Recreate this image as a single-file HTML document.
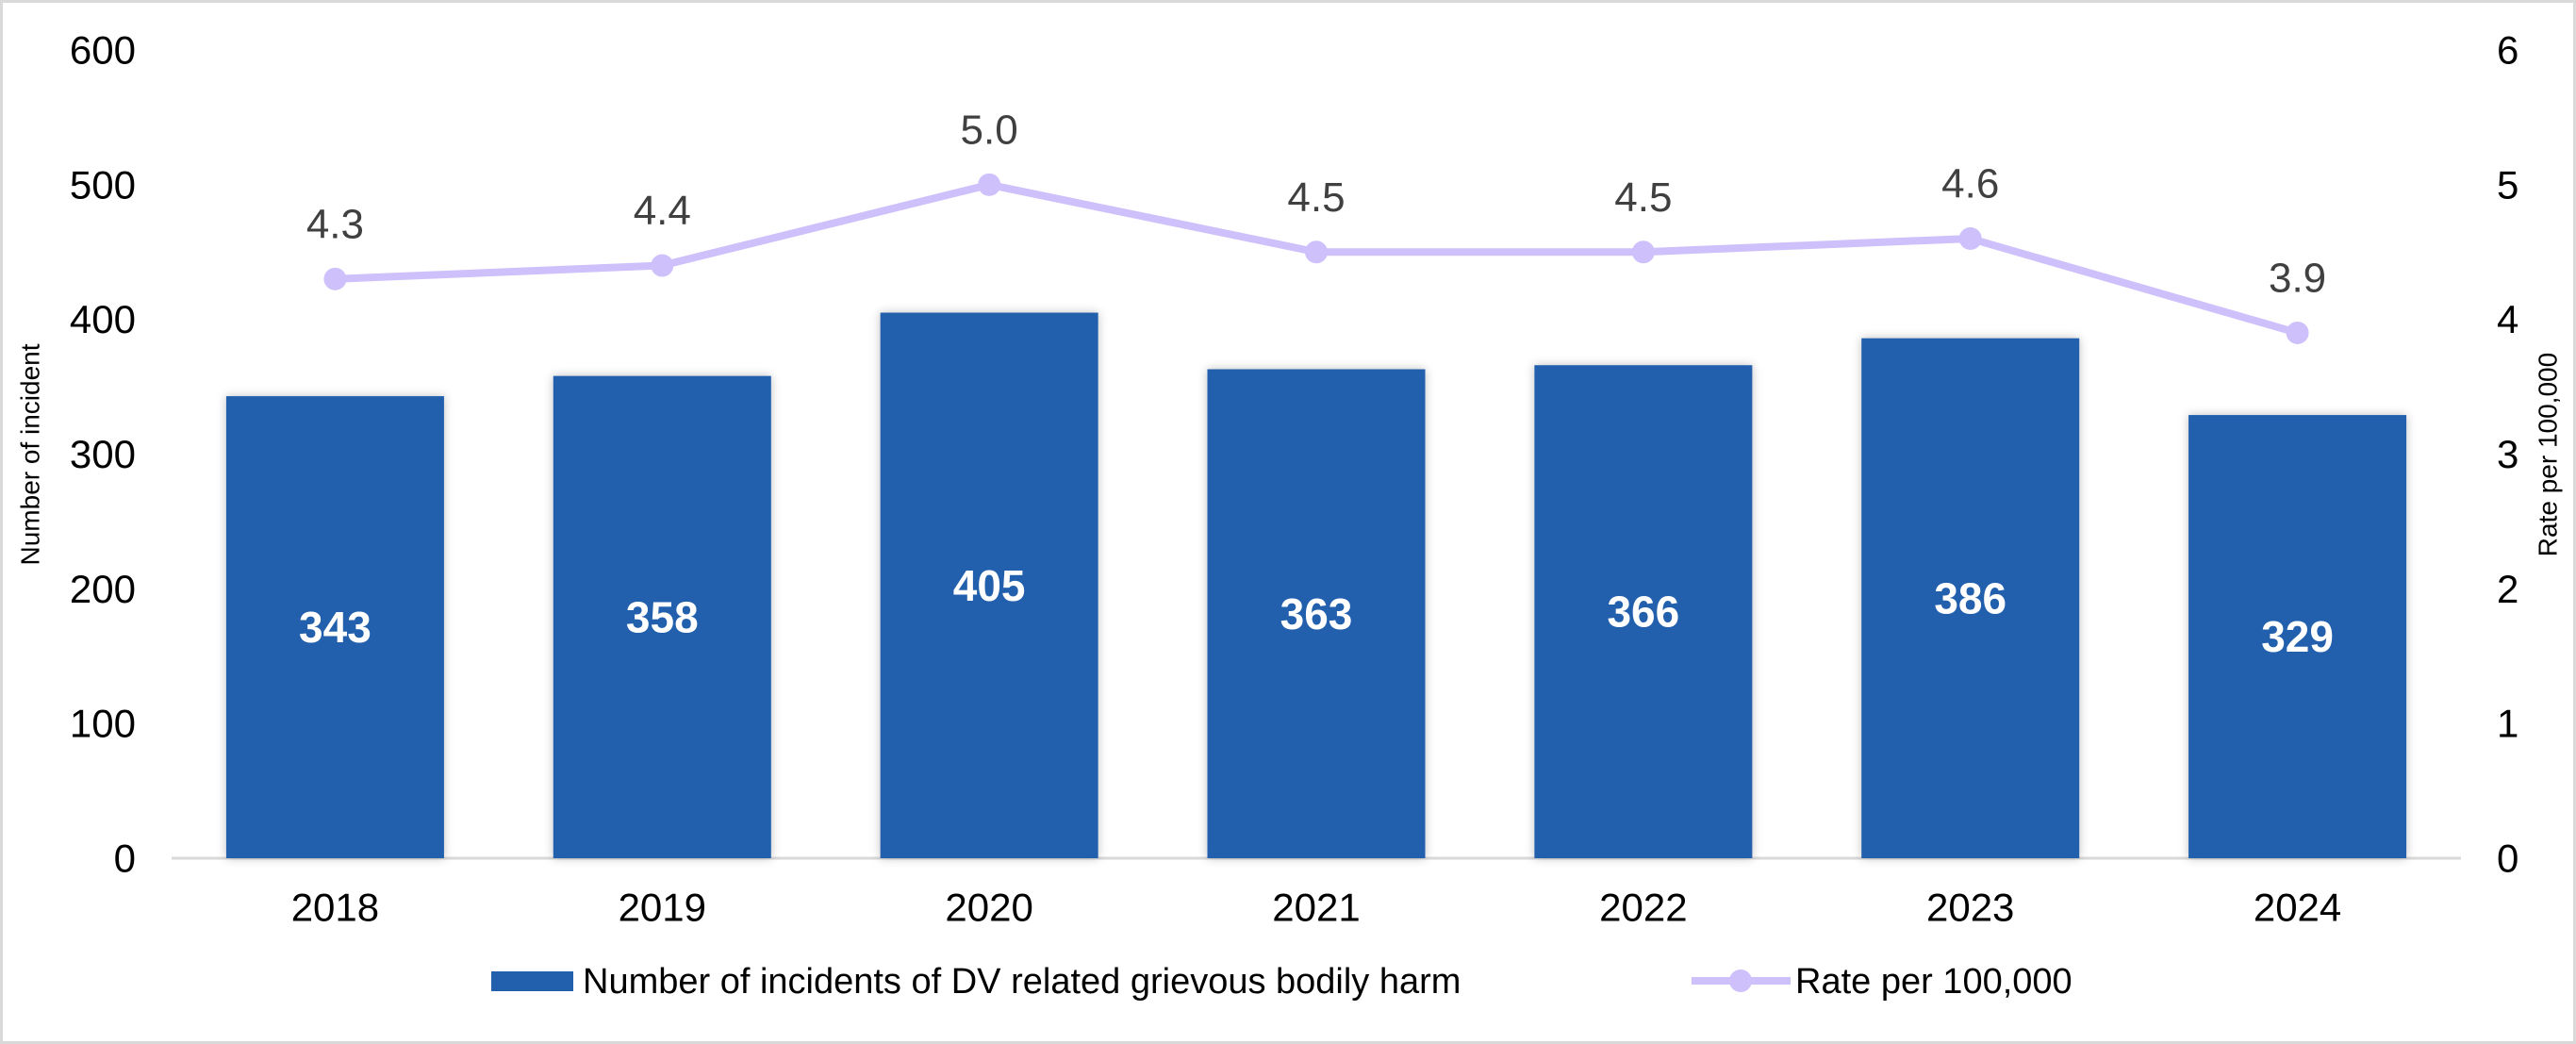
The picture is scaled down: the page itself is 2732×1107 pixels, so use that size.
<!DOCTYPE html>
<html><head><meta charset="utf-8"><style>
html,body{margin:0;padding:0;background:#fff}
svg{display:block}
text{font-family:"Liberation Sans",sans-serif}
</style></head><body>
<svg id="chart" width="2732" height="1107" viewBox="0 0 2732 1107" xmlns="http://www.w3.org/2000/svg">
<defs><filter id="sh" x="-10%" y="-10%" width="120%" height="120%"><feDropShadow dx="0" dy="0" stdDeviation="5" flood-color="#000" flood-opacity="0.25"/></filter></defs>
<rect x="1.5" y="1.5" width="2729" height="1104" fill="#fff" stroke="#d9d9d9" stroke-width="3"/>
<g id="yticks"></g><g id="y2ticks"></g>
<line x1="182" y1="910" x2="2610" y2="910" stroke="#d9d9d9" stroke-width="3"/>
<g id="bars"></g><g id="line"></g><g id="xlabels"></g>
<text x="32" y="482" transform="rotate(-90 32 482)" text-anchor="middle" dominant-baseline="central" font-size="28" style="font-family:'Liberation Sans Narrow','Liberation Sans',sans-serif">Number of incident</text>
<text x="2702" y="482" transform="rotate(-90 2702 482)" text-anchor="middle" dominant-baseline="central" font-size="28" style="font-family:'Liberation Sans Narrow','Liberation Sans',sans-serif">Rate per 100,000</text>
<g>
<rect x="521" y="1030" width="87" height="21" fill="#2260ad"/>
<text x="618" y="1041" dominant-baseline="central" font-size="38" fill="#000">Number of incidents of DV related grievous bodily harm</text>
<line x1="1794" y1="1040" x2="1899" y2="1040" stroke="#cdc0fb" stroke-width="8"/>
<circle cx="1846" cy="1040" r="12" fill="#cdc0fb"/>
<text x="1904" y="1041" dominant-baseline="central" font-size="38" fill="#000">Rate per 100,000</text>
</g>
</svg>
<script>
const categories=["2018","2019","2020","2021","2022","2023","2024"];
const incidents=[343,358,405,363,366,386,329];
const rates=[4.3,4.4,5.0,4.5,4.5,4.6,3.9];
const yTicks=[0,100,200,300,400,500,600];
const y2Ticks=[0,1,2,3,4,5,6];
const NS="http://www.w3.org/2000/svg";
const x0=182,x1=2610,yb=910,yt=53;
const band=(x1-x0)/categories.length;
const xc=i=>x0+band*(i+0.5);
const y=v=>yb-(v/600)*(yb-yt);
const y2=v=>yb-(v/6)*(yb-yt);
function mk(t,a,p){const e=document.createElementNS(NS,t);for(const k in a)e.setAttribute(k,a[k]);p.appendChild(e);return e;}
const gy=document.getElementById('yticks');
yTicks.forEach(v=>{const t=mk('text',{x:144,y:y(v),'text-anchor':'end','dominant-baseline':'central','font-size':'42',fill:'#000'},gy);t.textContent=v;

});
const gy2=document.getElementById('y2ticks');
y2Ticks.forEach(v=>{const t=mk('text',{x:2648,y:y2(v),'text-anchor':'start','dominant-baseline':'central','font-size':'42',fill:'#000'},gy2);t.textContent=v;

});
const gb=document.getElementById('bars');
const bw=band*0.666;
incidents.forEach((v,i)=>{const r=mk('rect',{x:xc(i)-bw/2,y:y(v),width:bw,height:yb-y(v),fill:'#2260ad',filter:'url(#sh)'},gb);


const t=mk('text',{x:xc(i),y:(y(v)+yb)/2,'text-anchor':'middle','dominant-baseline':'central','font-size':'46','font-weight':'bold',fill:'#fff'},gb);t.textContent=v;

});
const gl=document.getElementById('line');
const pl=mk('polyline',{points:rates.map((v,i)=>xc(i)+','+y2(v)).join(' '),fill:'none',stroke:'#cdc0fb','stroke-width':'8','stroke-linejoin':'round'},gl);


rates.forEach((v,i)=>{const c=mk('circle',{cx:xc(i),cy:y2(v),r:12,fill:'#cdc0fb'},gl);


const t=mk('text',{x:xc(i),y:y2(v)-58,'text-anchor':'middle','dominant-baseline':'central','font-size':'44',fill:'#404040'},gl);t.textContent=v.toFixed(1);

});
const gx=document.getElementById('xlabels');
categories.forEach((c,i)=>{const t=mk('text',{x:xc(i),y:962,'text-anchor':'middle','dominant-baseline':'central','font-size':'42',fill:'#000'},gx);t.textContent=c;

});
</script>
</body></html>
